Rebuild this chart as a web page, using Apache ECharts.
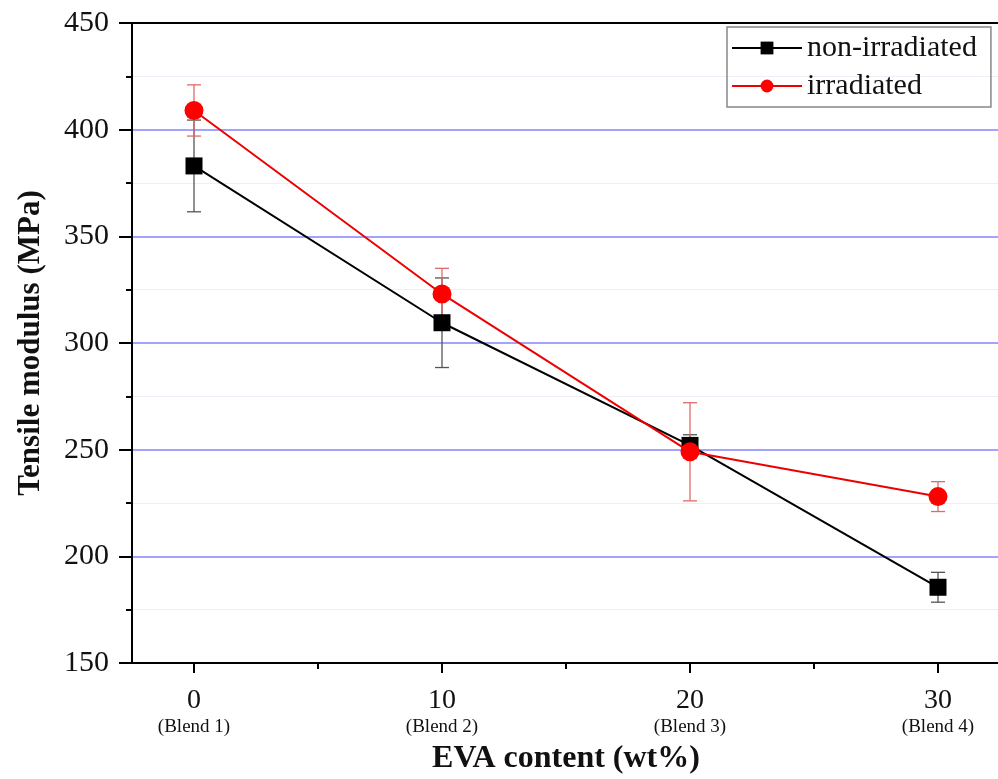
<!DOCTYPE html>
<html>
<head>
<meta charset="utf-8">
<script src="https://cdn.jsdelivr.net/npm/echarts@6/dist/echarts.min.js"></script>
<style>
html,body{margin:0;padding:0;background:#fff;}
#main{width:998px;height:779px;}
</style>
</head>
<body>
<div id="main"></div>
<script>
// EVA content (wt%) and blend names
var xVals = [0, 10, 20, 30];
var blendNames = ['(Blend 1)', '(Blend 2)', '(Blend 3)', '(Blend 4)'];
// tensile modulus (MPa) and error half-widths
var nonIrr = [383, 309.5, 252, 185.5];
var nonIrrErr = [21.5, 21, 5, 7];
var irr = [409, 323, 249, 228];
var irrErr = [12, 12, 23, 7];
var yTicks = [150, 200, 250, 300, 350, 400, 450];

var serif = "'Liberation Serif','Times New Roman',serif";

function pairs(ys) {
    return xVals.map(function (x, i) { return [x, ys[i]]; });
}
function errData(ys, es) {
    return xVals.map(function (x, i) { return [x, ys[i] - es[i], ys[i] + es[i]]; });
}
function errRender(color) {
    return function (params, api) {
        var x = api.value(0);
        var lo = api.coord([x, api.value(1)]);
        var hi = api.coord([x, api.value(2)]);
        var w = 7;
        var st = {stroke: color, lineWidth: 1.3};
        return {
            type: 'group',
            children: [
                {type: 'line', shape: {x1: lo[0], y1: lo[1], x2: hi[0], y2: hi[1]}, style: st},
                {type: 'line', shape: {x1: lo[0] - w, y1: lo[1], x2: lo[0] + w, y2: lo[1]}, style: st},
                {type: 'line', shape: {x1: hi[0] - w, y1: hi[1], x2: hi[0] + w, y2: hi[1]}, style: st}
            ]
        };
    };
}

var myChart = echarts.init(document.getElementById('main'));
var option = {
    animation: false,
    grid: {left: 132, right: -2, top: 23, bottom: 116, containLabel: false, outerBoundsMode: 'none'},
    legend: {
        orient: 'vertical',
        left: 727,
        top: 27,
        padding: [6, 14, 6, 4],
        itemGap: 8,
        itemWidth: 70,
        itemHeight: 16,
        borderColor: '#888',
        borderWidth: 1.5,
        textStyle: {fontFamily: serif, fontSize: 30, color: '#111'},
        data: ['non-irradiated', 'irradiated']
    },
    xAxis: [{
        type: 'value',
        min: -2.5,
        max: 32.5,
        axisLine: {onZero: false, lineStyle: {color: '#000', width: 2}},
        axisTick: {customValues: [0, 10, 20, 30], length: 10, lineStyle: {color: '#000', width: 2}},
        splitLine: {show: false},
        axisLabel: {
            customValues: xVals,
            margin: 24,
            formatter: function (v) {
                var i = xVals.indexOf(v);
                return '{a|' + v + '}\n{b|' + blendNames[i] + '}';
            },
            rich: {
                a: {fontFamily: serif, fontSize: 28, color: '#111', lineHeight: 28},
                b: {fontFamily: serif, fontSize: 19, color: '#111', lineHeight: 24}
            }
        },
        name: 'EVA content (wt%)',
        nameLocation: 'middle',
        nameGap: 80,
        nameTextStyle: {fontFamily: serif, fontSize: 32, fontWeight: 'bold', color: '#111'}
    }, {
        // minor ticks on bottom axis
        type: 'value',
        min: -2.5,
        max: 32.5,
        position: 'bottom',
        axisLine: {show: false},
        axisTick: {customValues: [5, 15, 25], length: 6, lineStyle: {color: '#000', width: 2}},
        axisLabel: {show: false},
        splitLine: {show: false}
    }, {
        // top frame
        type: 'value',
        min: -2.5,
        max: 32.5,
        position: 'top',
        axisLine: {onZero: false, lineStyle: {color: '#000', width: 2}},
        axisTick: {show: false},
        axisLabel: {show: false},
        splitLine: {show: false}
    }],
    yAxis: [{
        type: 'value',
        min: 150,
        max: 450,
        interval: 50,
        axisLine: {show: true, onZero: false, lineStyle: {color: '#000', width: 2}},
        axisTick: {show: true, length: 13, lineStyle: {color: '#000', width: 2}},
        minorTick: {show: true, splitNumber: 2, length: 6, lineStyle: {color: '#000', width: 2}},
        splitLine: {show: true, lineStyle: {color: '#8484ff', width: 1.5}},
        minorSplitLine: {show: true, lineStyle: {color: '#eeeef6', width: 1}},
        axisLabel: {
            margin: 23,
            fontFamily: serif,
            fontSize: 30,
            color: '#111',
            customValues: yTicks
        },
        name: 'Tensile modulus (MPa)',
        nameLocation: 'middle',
        nameGap: 86,
        nameTextStyle: {fontFamily: serif, fontSize: 31, fontWeight: 'bold', color: '#111'}
    }, {
        type: 'value',
        min: 150,
        max: 450,
        position: 'right',
        axisLine: {show: true, onZero: false, lineStyle: {color: '#000', width: 2}},
        axisTick: {show: false},
        axisLabel: {show: false},
        splitLine: {show: false}
    }],
    series: [{
        type: 'custom',
        name: 'errNon',
        renderItem: errRender('#555'),
        data: errData(nonIrr, nonIrrErr),
        z: 1,
        silent: true
    }, {
        type: 'custom',
        name: 'errIrr',
        renderItem: errRender('#e06a6a'),
        data: errData(irr, irrErr),
        z: 1,
        silent: true
    }, {
        name: 'non-irradiated',
        type: 'line',
        data: pairs(nonIrr),
        symbol: 'rect',
        symbolSize: 17,
        lineStyle: {color: '#000', width: 2},
        itemStyle: {color: '#000'},
        z: 3
    }, {
        name: 'irradiated',
        type: 'line',
        data: pairs(irr),
        symbol: 'circle',
        symbolSize: 19,
        lineStyle: {color: '#ee0000', width: 2},
        itemStyle: {color: '#ff0000'},
        z: 4
    }]
};
myChart.setOption(option);
</script>
</body>
</html>
